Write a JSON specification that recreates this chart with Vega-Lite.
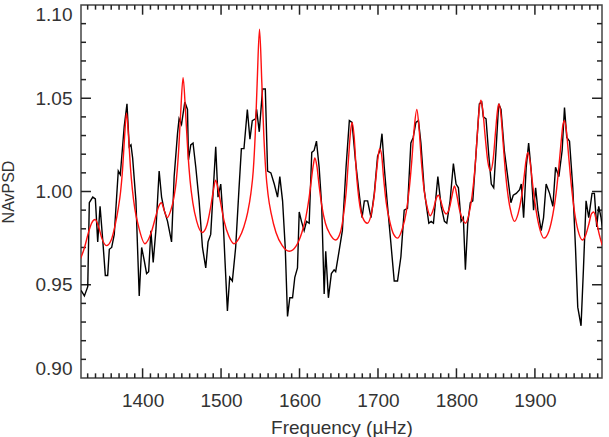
{
"$schema": "https://vega.github.io/schema/vega-lite/v6.json",
"width": 521,
"height": 373,
"autosize": {"type": "none"},
"padding": {"left": 81, "top": 5, "right": 7, "bottom": 59},
"background": "white",
"config": {"view": {"stroke": "#444", "strokeWidth": 1.5}, "axis": {"grid": false, "domain": false, "ticks": false, "labelOverlap": false}, "rule": {"color": "#222", "strokeWidth": 1.5}},
"datasets": {
"xt": [
{"t":1330,"k":"minor"},{"t":1340,"k":"minor"},{"t":1350,"k":"minor"},{"t":1360,"k":"minor"},{"t":1370,"k":"minor"},{"t":1380,"k":"minor"},{"t":1390,"k":"minor"},{"t":1400,"k":"major"},{"t":1410,"k":"minor"},{"t":1420,"k":"minor"},{"t":1430,"k":"minor"},{"t":1440,"k":"minor"},{"t":1450,"k":"minor"},{"t":1460,"k":"minor"},{"t":1470,"k":"minor"},{"t":1480,"k":"minor"},{"t":1490,"k":"minor"},{"t":1500,"k":"major"},{"t":1510,"k":"minor"},{"t":1520,"k":"minor"},{"t":1530,"k":"minor"},{"t":1540,"k":"minor"},{"t":1550,"k":"minor"},{"t":1560,"k":"minor"},{"t":1570,"k":"minor"},{"t":1580,"k":"minor"},{"t":1590,"k":"minor"},{"t":1600,"k":"major"},{"t":1610,"k":"minor"},{"t":1620,"k":"minor"},{"t":1630,"k":"minor"},{"t":1640,"k":"minor"},{"t":1650,"k":"minor"},{"t":1660,"k":"minor"},{"t":1670,"k":"minor"},{"t":1680,"k":"minor"},{"t":1690,"k":"minor"},{"t":1700,"k":"major"},{"t":1710,"k":"minor"},{"t":1720,"k":"minor"},{"t":1730,"k":"minor"},{"t":1740,"k":"minor"},{"t":1750,"k":"minor"},{"t":1760,"k":"minor"},{"t":1770,"k":"minor"},{"t":1780,"k":"minor"},{"t":1790,"k":"minor"},{"t":1800,"k":"major"},{"t":1810,"k":"minor"},{"t":1820,"k":"minor"},{"t":1830,"k":"minor"},{"t":1840,"k":"minor"},{"t":1850,"k":"minor"},{"t":1860,"k":"minor"},{"t":1870,"k":"minor"},{"t":1880,"k":"minor"},{"t":1890,"k":"minor"},{"t":1900,"k":"major"},{"t":1910,"k":"minor"},{"t":1920,"k":"minor"},{"t":1930,"k":"minor"},{"t":1940,"k":"minor"},{"t":1950,"k":"minor"},{"t":1960,"k":"minor"},{"t":1970,"k":"minor"},{"t":1980,"k":"minor"}
],
"yt": [
{"t":0.91,"k":"minor"},{"t":0.92,"k":"minor"},{"t":0.93,"k":"minor"},{"t":0.94,"k":"minor"},{"t":0.95,"k":"major"},{"t":0.96,"k":"minor"},{"t":0.97,"k":"minor"},{"t":0.98,"k":"minor"},{"t":0.99,"k":"minor"},{"t":1.0,"k":"major"},{"t":1.01,"k":"minor"},{"t":1.02,"k":"minor"},{"t":1.03,"k":"minor"},{"t":1.04,"k":"minor"},{"t":1.05,"k":"major"},{"t":1.06,"k":"minor"},{"t":1.07,"k":"minor"},{"t":1.08,"k":"minor"},{"t":1.09,"k":"minor"}
],
"obs": [
{"f":1321.6,"v":0.947},{"f":1325.8,"v":0.944},{"f":1330.1,"v":0.949},{"f":1332.1,"v":0.994},{"f":1336.5,"v":0.997},{"f":1339.8,"v":0.996},{"f":1342.8,"v":0.973},{"f":1345.8,"v":0.992},{"f":1349.2,"v":0.974},{"f":1352.5,"v":0.955},{"f":1355.5,"v":0.955},{"f":1357.6,"v":0.969},{"f":1360.6,"v":0.970},{"f":1363.9,"v":0.977},{"f":1369.0,"v":1.011},{"f":1371.6,"v":1.009},{"f":1376.6,"v":1.035},{"f":1380.1,"v":1.047},{"f":1383.0,"v":1.024},{"f":1385.2,"v":1.025},{"f":1387.3,"v":1.018},{"f":1391.5,"v":0.995},{"f":1395.7,"v":0.944},{"f":1398.8,"v":0.970},{"f":1402.1,"v":0.963},{"f":1405.1,"v":0.956},{"f":1407.7,"v":0.957},{"f":1410.6,"v":0.979},{"f":1413.5,"v":0.962},{"f":1416.9,"v":0.979},{"f":1421.1,"v":1.011},{"f":1424.2,"v":0.997},{"f":1427.5,"v":0.990},{"f":1431.8,"v":0.984},{"f":1436.9,"v":0.973},{"f":1440.2,"v":1.008},{"f":1444.5,"v":1.031},{"f":1446.5,"v":1.039},{"f":1449.6,"v":1.036},{"f":1453.8,"v":1.048},{"f":1457.2,"v":1.044},{"f":1458.5,"v":1.017},{"f":1461.4,"v":1.025},{"f":1464.3,"v":1.026},{"f":1467.8,"v":1.013},{"f":1472.0,"v":0.995},{"f":1476.3,"v":0.970},{"f":1480.5,"v":0.959},{"f":1483.4,"v":0.973},{"f":1486.8,"v":0.977},{"f":1489.8,"v":0.999},{"f":1493.2,"v":1.024},{"f":1496.1,"v":0.997},{"f":1499.6,"v":1.004},{"f":1502.5,"v":0.986},{"f":1505.0,"v":0.963},{"f":1508.1,"v":0.936},{"f":1511.0,"v":0.954},{"f":1514.4,"v":0.952},{"f":1518.6,"v":0.970},{"f":1522.8,"v":1.001},{"f":1525.9,"v":1.023},{"f":1529.2,"v":1.023},{"f":1533.5,"v":1.044},{"f":1536.8,"v":1.028},{"f":1539.8,"v":1.038},{"f":1544.0,"v":1.039},{"f":1545.3,"v":1.044},{"f":1548.7,"v":1.032},{"f":1552.9,"v":1.055},{"f":1556.4,"v":1.055},{"f":1559.3,"v":1.011},{"f":1563.5,"v":1.010},{"f":1567.8,"v":1.004},{"f":1572.0,"v":0.997},{"f":1574.9,"v":1.008},{"f":1578.4,"v":0.995},{"f":1581.8,"v":0.970},{"f":1584.7,"v":0.933},{"f":1587.6,"v":0.943},{"f":1591.1,"v":0.943},{"f":1594.0,"v":0.954},{"f":1597.4,"v":0.959},{"f":1599.6,"v":0.989},{"f":1602.5,"v":0.984},{"f":1605.9,"v":0.979},{"f":1608.9,"v":0.984},{"f":1612.3,"v":0.983},{"f":1615.6,"v":1.021},{"f":1618.6,"v":1.022},{"f":1621.6,"v":1.027},{"f":1625.0,"v":1.013},{"f":1628.3,"v":0.992},{"f":1631.4,"v":0.945},{"f":1633.4,"v":0.968},{"f":1636.8,"v":0.943},{"f":1640.6,"v":0.956},{"f":1644.1,"v":0.958},{"f":1646.1,"v":0.957},{"f":1650.4,"v":0.968},{"f":1654.6,"v":0.979},{"f":1659.3,"v":1.013},{"f":1663.5,"v":1.038},{"f":1666.9,"v":1.037},{"f":1671.2,"v":1.017},{"f":1675.4,"v":1.001},{"f":1679.7,"v":0.986},{"f":1682.6,"v":0.995},{"f":1686.8,"v":0.995},{"f":1691.1,"v":0.986},{"f":1695.3,"v":0.999},{"f":1699.5,"v":1.019},{"f":1702.5,"v":1.022},{"f":1705.1,"v":1.031},{"f":1708.0,"v":1.013},{"f":1712.2,"v":0.992},{"f":1716.5,"v":0.972},{"f":1720.7,"v":0.952},{"f":1724.9,"v":0.952},{"f":1729.2,"v":0.965},{"f":1733.4,"v":0.990},{"f":1737.6,"v":0.991},{"f":1741.9,"v":1.026},{"f":1744.9,"v":1.029},{"f":1748.3,"v":1.037},{"f":1751.6,"v":1.038},{"f":1754.7,"v":1.026},{"f":1758.9,"v":1.001},{"f":1761.8,"v":0.992},{"f":1764.8,"v":0.983},{"f":1767.8,"v":0.984},{"f":1770.7,"v":0.983},{"f":1776.3,"v":1.008},{"f":1780.5,"v":0.992},{"f":1784.7,"v":0.984},{"f":1787.7,"v":0.983},{"f":1791.9,"v":0.995},{"f":1796.1,"v":1.015},{"f":1799.5,"v":1.004},{"f":1802.5,"v":1.002},{"f":1805.9,"v":0.984},{"f":1808.8,"v":0.986},{"f":1811.4,"v":0.958},{"f":1814.4,"v":0.983},{"f":1817.7,"v":0.994},{"f":1820.8,"v":0.995},{"f":1824.9,"v":1.020},{"f":1829.2,"v":1.047},{"f":1832.2,"v":1.048},{"f":1834.2,"v":1.040},{"f":1837.7,"v":1.039},{"f":1841.1,"v":1.020},{"f":1844.4,"v":1.004},{"f":1847.5,"v":1.002},{"f":1850.4,"v":1.022},{"f":1853.8,"v":1.047},{"f":1856.8,"v":1.044},{"f":1861.0,"v":1.022},{"f":1865.3,"v":1.008},{"f":1869.4,"v":0.994},{"f":1872.4,"v":0.998},{"f":1876.2,"v":0.999},{"f":1880.5,"v":1.001},{"f":1882.6,"v":1.004},{"f":1885.6,"v":0.986},{"f":1888.9,"v":1.013},{"f":1892.0,"v":1.026},{"f":1895.3,"v":1.011},{"f":1898.3,"v":0.990},{"f":1900.9,"v":1.002},{"f":1903.8,"v":0.990},{"f":1908.0,"v":0.979},{"f":1911.0,"v":0.986},{"f":1914.3,"v":1.004},{"f":1918.7,"v":0.999},{"f":1922.9,"v":0.992},{"f":1926.3,"v":1.013},{"f":1930.5,"v":1.008},{"f":1934.7,"v":1.022},{"f":1937.7,"v":1.045},{"f":1940.6,"v":1.029},{"f":1944.1,"v":1.027},{"f":1948.3,"v":1.002},{"f":1951.7,"v":0.970},{"f":1954.6,"v":0.938},{"f":1958.8,"v":0.928},{"f":1961.9,"v":0.959},{"f":1965.2,"v":0.995},{"f":1968.6,"v":0.986},{"f":1972.8,"v":0.999},{"f":1975.8,"v":0.999},{"f":1978.8,"v":0.981},{"f":1981.3,"v":0.992},{"f":1984.3,"v":0.986},{"f":1986.5,"v":0.979}
],
"fit": [
{"f":1320,"v":0.963},{"f":1326,"v":0.970},{"f":1331,"v":0.978},{"f":1335,"v":0.983},{"f":1339.5,"v":0.985},{"f":1344,"v":0.981},{"f":1348,"v":0.975},{"f":1354,"v":0.971},{"f":1360,"v":0.974},{"f":1365,"v":0.982},{"f":1369,"v":0.991},{"f":1372,"v":1.000},{"f":1374.5,"v":1.012},{"f":1377,"v":1.029},{"f":1379.5,"v":1.042},{"f":1382,"v":1.030},{"f":1384.5,"v":1.013},{"f":1387,"v":1.001},{"f":1390,"v":0.991},{"f":1395,"v":0.981},{"f":1403,"v":0.972},{"f":1411,"v":0.978},{"f":1417,"v":0.987},{"f":1420.5,"v":0.992},{"f":1424,"v":0.994},{"f":1427.5,"v":0.990},{"f":1431.5,"v":0.986},{"f":1436,"v":0.990},{"f":1440,"v":0.997},{"f":1443,"v":1.006},{"f":1445.5,"v":1.019},{"f":1448.5,"v":1.042},{"f":1451.6,"v":1.061},{"f":1454.7,"v":1.043},{"f":1457.7,"v":1.021},{"f":1460.5,"v":1.006},{"f":1464,"v":0.994},{"f":1469,"v":0.984},{"f":1476,"v":0.978},{"f":1482,"v":0.982},{"f":1486.5,"v":0.991},{"f":1490,"v":1.000},{"f":1493,"v":1.006},{"f":1496,"v":1.002},{"f":1499,"v":0.995},{"f":1504,"v":0.984},{"f":1510,"v":0.976},{"f":1516.5,"v":0.972},{"f":1523,"v":0.975},{"f":1529,"v":0.981},{"f":1534,"v":0.989},{"f":1538,"v":0.999},{"f":1541,"v":1.011},{"f":1543.5,"v":1.030},{"f":1546,"v":1.058},{"f":1549,"v":1.087},{"f":1552,"v":1.058},{"f":1554.5,"v":1.030},{"f":1557,"v":1.011},{"f":1560,"v":0.998},{"f":1564,"v":0.988},{"f":1570,"v":0.978},{"f":1578,"v":0.971},{"f":1587,"v":0.968},{"f":1596,"v":0.971},{"f":1603,"v":0.978},{"f":1608,"v":0.986},{"f":1612,"v":0.996},{"f":1615,"v":1.006},{"f":1617.5,"v":1.014},{"f":1619.5,"v":1.018},{"f":1622,"v":1.014},{"f":1625,"v":1.003},{"f":1628.5,"v":0.992},{"f":1633,"v":0.983},{"f":1639,"v":0.977},{"f":1646,"v":0.974},{"f":1652,"v":0.978},{"f":1656,"v":0.987},{"f":1659.5,"v":1.000},{"f":1662.5,"v":1.018},{"f":1665,"v":1.032},{"f":1667,"v":1.037},{"f":1669.5,"v":1.030},{"f":1672.5,"v":1.010},{"f":1676,"v":0.995},{"f":1680.5,"v":0.986},{"f":1686.5,"v":0.983},{"f":1691.5,"v":0.988},{"f":1695,"v":0.997},{"f":1698,"v":1.010},{"f":1700,"v":1.018},{"f":1702,"v":1.023},{"f":1704.5,"v":1.020},{"f":1707,"v":1.008},{"f":1710.5,"v":0.994},{"f":1715,"v":0.984},{"f":1720,"v":0.977},{"f":1725,"v":0.975},{"f":1731,"v":0.980},{"f":1736,"v":0.989},{"f":1740,"v":1.002},{"f":1743,"v":1.016},{"f":1746,"v":1.033},{"f":1749.5,"v":1.044},{"f":1752.5,"v":1.033},{"f":1755.5,"v":1.015},{"f":1759,"v":1.000},{"f":1763,"v":0.991},{"f":1766.5,"v":0.987},{"f":1771,"v":0.991},{"f":1774,"v":0.996},{"f":1777,"v":0.998},{"f":1780,"v":0.995},{"f":1783.5,"v":0.990},{"f":1787,"v":0.988},{"f":1791,"v":0.991},{"f":1794.5,"v":0.998},{"f":1797.5,"v":1.003},{"f":1800.5,"v":0.998},{"f":1804,"v":0.990},{"f":1808,"v":0.985},{"f":1811.5,"v":0.983},{"f":1816,"v":0.988},{"f":1820,"v":0.998},{"f":1823.5,"v":1.012},{"f":1826.5,"v":1.030},{"f":1829,"v":1.044},{"f":1831.2,"v":1.049},{"f":1833.5,"v":1.044},{"f":1836.5,"v":1.030},{"f":1840,"v":1.016},{"f":1843.5,"v":1.011},{"f":1847,"v":1.018},{"f":1850,"v":1.033},{"f":1852.5,"v":1.044},{"f":1854.3,"v":1.047},{"f":1856.5,"v":1.042},{"f":1859.5,"v":1.026},{"f":1862.5,"v":1.010},{"f":1866,"v":0.997},{"f":1870,"v":0.988},{"f":1874,"v":0.984},{"f":1878.5,"v":0.988},{"f":1882.5,"v":0.996},{"f":1886,"v":1.007},{"f":1888.8,"v":1.017},{"f":1891,"v":1.021},{"f":1893.5,"v":1.017},{"f":1896.5,"v":1.006},{"f":1900,"v":0.994},{"f":1905,"v":0.982},{"f":1911.5,"v":0.975},{"f":1918,"v":0.979},{"f":1923,"v":0.988},{"f":1927,"v":0.999},{"f":1930.5,"v":1.013},{"f":1933.5,"v":1.027},{"f":1935.8,"v":1.036},{"f":1937.7,"v":1.038},{"f":1940,"v":1.033},{"f":1943,"v":1.019},{"f":1946.5,"v":1.003},{"f":1950.5,"v":0.989},{"f":1955,"v":0.979},{"f":1960.5,"v":0.974},{"f":1965,"v":0.977},{"f":1969,"v":0.983},{"f":1972,"v":0.988},{"f":1975,"v":0.989},{"f":1978.5,"v":0.984},{"f":1982,"v":0.977},{"f":1986,"v":0.971}
]
},
"layer": [
{"data": {"name": "xt"}, "transform": [{"filter": "datum.k == 'major'"}], "mark": {"type": "rule"},
"encoding": {"x": {"field": "t", "type": "quantitative", "scale": {"domain": [1321.5, 1985.5], "nice": false, "zero": false}, "axis": null},
"y": {"datum": 0.9, "type": "quantitative", "scale": {"domain": [0.9, 1.1], "nice": false, "zero": false}, "axis": null}, "y2": {"datum": 0.9052}}},
{"data": {"name": "xt"}, "transform": [{"filter": "datum.k == 'minor'"}], "mark": {"type": "rule"},
"encoding": {"x": {"field": "t", "type": "quantitative", "axis": null},
"y": {"datum": 0.9, "type": "quantitative", "axis": null}, "y2": {"datum": 0.9025}}},
{"data": {"name": "xt"}, "transform": [{"filter": "datum.k == 'major'"}], "mark": {"type": "rule"},
"encoding": {"x": {"field": "t", "type": "quantitative", "axis": null},
"y": {"datum": 1.1, "type": "quantitative", "axis": null}, "y2": {"datum": 1.0948}}},
{"data": {"name": "xt"}, "transform": [{"filter": "datum.k == 'minor'"}], "mark": {"type": "rule"},
"encoding": {"x": {"field": "t", "type": "quantitative", "axis": null},
"y": {"datum": 1.1, "type": "quantitative", "axis": null}, "y2": {"datum": 1.0975}}},
{"data": {"name": "yt"}, "transform": [{"filter": "datum.k == 'major'"}], "mark": {"type": "rule"},
"encoding": {"y": {"field": "t", "type": "quantitative", "axis": null},
"x": {"datum": 1321.5, "type": "quantitative", "axis": null}, "x2": {"datum": 1334.2}}},
{"data": {"name": "yt"}, "transform": [{"filter": "datum.k == 'minor'"}], "mark": {"type": "rule"},
"encoding": {"y": {"field": "t", "type": "quantitative", "axis": null},
"x": {"datum": 1321.5, "type": "quantitative", "axis": null}, "x2": {"datum": 1327.9}}},
{"data": {"name": "yt"}, "transform": [{"filter": "datum.k == 'major'"}], "mark": {"type": "rule"},
"encoding": {"y": {"field": "t", "type": "quantitative", "axis": null},
"x": {"datum": 1985.5, "type": "quantitative", "axis": null}, "x2": {"datum": 1972.8}}},
{"data": {"name": "yt"}, "transform": [{"filter": "datum.k == 'minor'"}], "mark": {"type": "rule"},
"encoding": {"y": {"field": "t", "type": "quantitative", "axis": null},
"x": {"datum": 1985.5, "type": "quantitative", "axis": null}, "x2": {"datum": 1979.1}}},
{
"data": {"name": "obs"},
"mark": {"type": "line", "color": "#000000", "strokeWidth": 1.4, "clip": true},
"encoding": {
"x": {"field": "f", "type": "quantitative",
"axis": {"orient": "bottom", "values": [1400,1500,1600,1700,1800,1900], "format": "d",
"ticks": false, "labelPadding": 13,
"labelFont": "Liberation Sans", "labelFontSize": 19, "labelColor": "#333",
"title": "Frequency (µHz)", "titleFont": "Liberation Sans", "titleFontSize": 19,
"titleFontWeight": "normal", "titleColor": "#333", "titlePadding": 8}},
"y": {"field": "v", "type": "quantitative",
"axis": {"orient": "left", "values": [0.9,0.95,1.0,1.05,1.1], "format": ".2f",
"ticks": false, "labelPadding": 9, "labelFlush": true,
"labelFont": "Liberation Sans", "labelFontSize": 19, "labelColor": "#333",
"title": "NAvPSD", "titleFont": "Liberation Sans", "titleFontSize": 16,
"titleFontWeight": "normal", "titleColor": "#333", "titlePadding": 19}}
}
},
{
"data": {"name": "fit"},
"mark": {"type": "line", "color": "#ff1010", "strokeWidth": 1.4, "clip": true, "interpolate": "monotone"},
"encoding": {
"x": {"field": "f", "type": "quantitative", "axis": null},
"y": {"field": "v", "type": "quantitative", "axis": null}
}
}
],
"resolve": {"axis": {"x": "independent", "y": "independent"}}
}
